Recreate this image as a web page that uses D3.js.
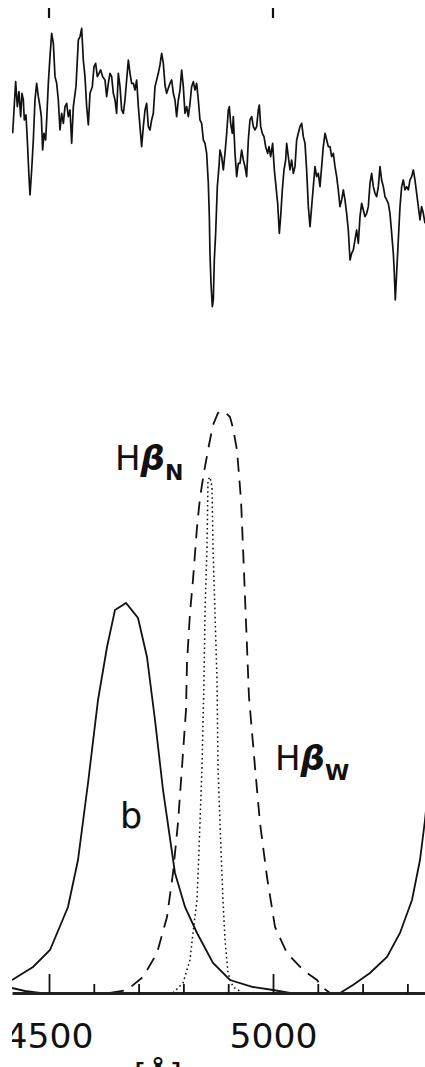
<!DOCTYPE html>
<html>
<head>
<meta charset="utf-8">
<script src="https://cdn.jsdelivr.net/npm/d3@7"></script>
<style>
body { margin: 0; background: #fff; }
svg { display: block; }
text { font-family: "DejaVu Sans", sans-serif; fill: #111; }
</style>
</head>
<body>
<div id="chart"></div>
<script>
// Observed spectrum (wavelength in A, flux in arbitrary units)
const specWave = [4418.9,4421.9,4425.6,4429.3,4433.0,4436.7,4439.7,4442.7,4444.9,4448.6,4451.6,4455.3,4457.6,4461.3,4465.0,4468.7,4472.4,4476.2,4479.9,4482.9,4485.8,4488.8,4492.5,4494.8,4498.5,4502.2,4505.9,4509.7,4513.4,4517.1,4520.8,4524.5,4528.3,4532.0,4535.7,4539.4,4543.1,4546.9,4550.6,4554.3,4560.2,4565.5,4569.2,4572.9,4576.6,4580.3,4584.1,4587.8,4591.5,4596.7,4600.4,4604.1,4607.9,4611.6,4615.3,4619.8,4625.0,4628.7,4632.4,4636.1,4639.9,4643.6,4647.3,4651.0,4654.7,4658.5,4662.2,4665.9,4669.6,4673.3,4677.1,4680.8,4684.5,4688.2,4691.9,4695.7,4699.4,4703.1,4706.8,4710.5,4714.3,4718.0,4721.7,4725.4,4729.1,4732.9,4736.6,4740.3,4744.0,4747.7,4751.5,4755.2,4758.9,4762.6,4766.3,4770.1,4773.8,4777.5,4781.2,4784.9,4788.7,4792.4,4796.1,4799.8,4803.5,4807.3,4811.0,4814.7,4818.4,4822.1,4825.9,4829.6,4833.3,4837.0,4840.7,4844.5,4848.2,4851.9,4855.6,4857.9,4859.3,4861.6,4864.6,4866.8,4869.0,4872.0,4875.7,4879.4,4881.7,4885.4,4889.1,4892.8,4896.6,4900.3,4902.5,4905.5,4909.2,4911.4,4915.2,4918.9,4922.6,4926.3,4930.0,4933.8,4937.5,4941.2,4944.9,4948.6,4952.4,4956.1,4959.8,4963.5,4967.2,4969.5,4972.5,4976.2,4979.9,4983.6,4988.1,4991.1,4994.8,4999.2,5003.0,5006.7,5010.4,5014.1,5017.1,5020.8,5024.5,5028.3,5030.5,5034.2,5037.9,5041.6,5045.4,5049.1,5052.8,5056.5,5060.2,5064.0,5067.7,5071.4,5075.1,5078.9,5082.6,5086.3,5090.0,5093.7,5097.5,5101.2,5104.9,5108.6,5112.3,5116.1,5119.8,5123.5,5127.2,5130.9,5134.7,5138.4,5142.1,5145.8,5149.5,5153.3,5157.0,5160.7,5164.4,5168.1,5171.9,5175.6,5179.3,5183.0,5186.7,5190.5,5194.2,5197.9,5201.6,5205.3,5209.1,5212.8,5216.5,5220.2,5223.9,5227.7,5231.4,5235.1,5238.8,5242.5,5246.3,5250.0,5253.7,5257.4,5261.1,5264.9,5268.6,5270.8,5273.0,5276.0,5279.7,5283.5,5287.2,5290.9,5294.6,5298.3,5302.1,5305.8,5309.5,5313.2,5316.9,5320.7,5324.4,5328.1,5331.8,5335.5,5339.3];
const specFlux = [6.00,6.70,7.55,6.80,7.25,6.50,7.20,7.00,6.40,6.55,5.80,4.70,4.15,4.90,5.80,7.00,7.50,7.10,6.80,6.50,5.50,6.00,5.80,6.40,7.50,8.30,9.00,8.70,7.70,7.50,7.00,6.10,6.60,6.30,6.80,6.90,6.50,6.70,5.70,6.80,7.40,8.80,8.90,9.15,8.20,7.70,6.80,6.25,7.20,7.40,8.00,8.10,7.70,7.80,7.90,7.70,7.60,7.10,7.50,7.80,7.70,7.20,7.00,6.60,7.80,7.40,6.70,6.60,7.00,7.60,8.20,7.80,7.50,7.50,7.30,7.60,6.80,6.20,5.60,6.20,6.70,6.90,6.20,6.10,6.40,6.60,7.40,7.60,7.80,8.05,8.40,8.10,7.45,7.20,7.35,7.50,7.60,7.20,7.00,6.50,7.00,7.30,7.90,7.40,6.60,6.80,6.50,6.90,7.40,7.55,7.30,7.50,7.00,6.40,6.30,5.80,5.70,5.40,4.50,3.50,2.40,1.50,0.80,1.00,2.20,3.00,4.40,5.00,5.50,5.30,4.90,5.40,6.00,6.70,6.80,6.30,6.00,6.50,5.40,4.70,5.10,5.10,5.50,5.20,5.00,4.70,5.80,6.40,6.50,6.20,6.10,6.20,6.70,6.85,6.20,6.00,5.90,5.60,5.40,5.60,5.30,5.70,4.90,4.40,3.90,3.00,3.50,4.30,4.90,5.20,5.70,5.30,4.90,5.20,4.80,5.00,5.80,6.00,6.20,6.30,5.90,5.70,4.90,3.80,3.20,3.80,4.40,5.00,4.70,4.80,4.40,5.00,5.60,6.00,5.80,5.60,5.60,5.30,5.40,5.00,4.70,4.30,3.80,4.00,4.30,4.00,3.60,3.10,2.20,2.40,2.50,2.80,3.10,2.70,3.50,3.90,3.70,3.50,3.60,3.80,4.50,4.80,4.40,4.20,4.10,4.40,5.00,4.60,4.40,4.10,4.00,3.90,3.60,3.00,2.40,1.80,1.00,1.80,2.80,3.80,4.40,4.60,4.30,4.40,4.30,4.60,4.70,4.90,4.60,4.20,3.80,3.40,3.80,3.60,3.30];

// Fitted components (lower panel)
const bWave   = [4417.4,4464.3,4502.2,4542.4,4564.7,4587.1,4609.4,4629.5,4647.3,4671.9,4698.7,4718.7,4736.6,4754.5,4781.2,4803.6,4830.4,4866.1,4904.0,4955.4,5000.0,5037.9];
const bFlux   = [0.13,0.26,0.43,0.86,1.33,2.10,2.93,3.46,3.83,3.90,3.75,3.36,2.73,2.03,1.20,0.86,0.60,0.30,0.13,0.06,0.03,0.00];
const edgeWave = [4417.4,4446.4,4479.9];
const edgeFlux = [0.05,0.02,0.00];
const hbwWave = [4636.2,4674.1,4709.8,4741.1,4763.4,4776.8,4787.9,4796.9,4805.8,4808.0,4814.7,4821.4,4830.4,4837.0,4846.0,4857.1,4866.1,4877.2,4890.6,4904.0,4910.7,4919.6,4924.1,4928.6,4933.0,4937.5,4942.0,4946.4,4959.8,4971.0,4986.6,5004.5,5031.2,5067.0,5098.2,5109.4,5127.2];
const hbwFlux = [0.00,0.03,0.16,0.40,0.76,1.20,1.70,2.26,2.83,3.30,3.80,4.13,4.66,4.95,5.21,5.48,5.68,5.80,5.82,5.76,5.65,5.43,5.18,4.93,4.46,3.96,3.46,2.96,2.26,1.70,1.16,0.66,0.40,0.23,0.13,0.06,0.00];
const hbnWave = [4776.8,4799.1,4814.7,4821.4,4830.4,4834.8,4841.5,4846.0,4848.2,4852.7,4854.9,4859.4,4863.8,4866.1,4870.5,4875.0,4877.2,4883.9,4888.4,4892.9,4899.6,4910.7,4933.0];
const hbnFlux = [0.00,0.10,0.33,0.60,0.93,1.43,2.26,3.13,3.80,4.46,5.13,5.16,5.06,4.46,3.80,3.13,2.26,1.43,0.93,0.53,0.20,0.06,0.00];
const redWave = [5149.6,5178.6,5216.5,5254.5,5283.5,5310.3,5328.1,5339.3,5350.4];
const redFlux = [0.00,0.08,0.20,0.36,0.60,0.93,1.33,1.73,2.23];

const majorTicks = [4500, 5000];
const minorTicks = [4600, 4700, 4800, 4900, 5100, 5200, 5300];
const axisTitle = "[Å]";

const width = 425, height = 1067;

const svg = d3.select("#chart").append("svg")
    .attr("width", width)
    .attr("height", height);

svg.append("rect").attr("width", width).attr("height", height).attr("fill", "#fff");

const defs = svg.append("defs");
defs.append("clipPath").attr("id", "clip")
  .append("rect").attr("x", 12).attr("y", 0).attr("width", 413).attr("height", 993);
// the figure is cropped at its left edge, labels included
defs.append("clipPath").attr("id", "clipAll")
  .append("rect").attr("x", 12).attr("y", 0).attr("width", 413).attr("height", height);

const x = d3.scaleLinear().domain([4417.4, 5339.3]).range([12, 425]);
const yTop = d3.scaleLinear().domain([0, 10]).range([333.3, 0]);
const yBot = d3.scaleLinear().domain([0, 6]).range([993, 393]);

const zip = (w, f) => w.map((d, i) => [d, f[i]]);

const lineTop = d3.line().x(d => x(d[0])).y(d => yTop(d[1]));
const lineBot = d3.line().x(d => x(d[0])).y(d => yBot(d[1]));

const plot = svg.append("g").attr("clip-path", "url(#clip)");

// spectrum
plot.append("path")
    .datum(zip(specWave, specFlux))
    .attr("d", lineTop)
    .attr("fill", "none")
    .attr("stroke", "#111")
    .attr("stroke-width", 1.7)
    .attr("stroke-linejoin", "round");

// ticks hanging at the top
svg.append("g").selectAll("line")
    .data(majorTicks)
    .join("line")
    .attr("x1", d => x(d)).attr("x2", d => x(d))
    .attr("y1", 8).attr("y2", 18)
    .attr("stroke", "#111").attr("stroke-width", 2.2);

// components
const comps = [
    { w: bWave, f: bFlux, dash: null, sw: 1.8 },
    { w: edgeWave, f: edgeFlux, dash: null, sw: 1.8 },
    { w: redWave, f: redFlux, dash: null, sw: 1.8 },
    { w: hbwWave, f: hbwFlux, dash: "14,9", sw: 1.8 },
    { w: hbnWave, f: hbnFlux, dash: "1.6,3", sw: 1.5 }
];
comps.forEach(c => {
    plot.append("path")
        .datum(zip(c.w, c.f))
        .attr("d", lineBot)
        .attr("fill", "none")
        .attr("stroke", "#111")
        .attr("stroke-width", c.sw)
        .attr("stroke-dasharray", c.dash);
});

const axes = svg.append("g").attr("clip-path", "url(#clipAll)");

// bottom axis: minor and major ticks pointing up
axes.append("g")
    .attr("transform", "translate(0,993)")
    .call(d3.axisBottom(x).tickValues(minorTicks).tickSizeInner(-9).tickSizeOuter(0).tickFormat(""))
    .call(g => g.selectAll("line").attr("stroke", "#111").attr("stroke-width", 1.8))
    .call(g => g.select(".domain").attr("stroke", "#222").attr("stroke-width", 2.8));

axes.append("g")
    .attr("transform", "translate(0,993)")
    .call(d3.axisBottom(x).tickValues(majorTicks).tickSizeInner(-19).tickSizeOuter(0).tickFormat(d3.format("d")))
    .call(g => g.select(".domain").remove())
    .call(g => g.selectAll("line").attr("stroke", "#111").attr("stroke-width", 1.8))
    .call(g => g.selectAll("text")
        .attr("y", 55).attr("dy", null)
        .attr("font-size", 33)
        .attr("font-family", "DejaVu Sans")
        .attr("fill", "#111")
        .attr("textLength", 88)
        .attr("lengthAdjust", "spacingAndGlyphs"));

axes.append("text")
    .attr("x", 158).attr("y", 1088)
    .attr("text-anchor", "middle")
    .attr("font-size", 33)
    .text(axisTitle);

// labels
function hbLabel(px, py, sub) {
    const t = svg.append("text").attr("x", px).attr("y", py).attr("font-size", 34);
    t.append("tspan").text("H");
    t.append("tspan").attr("font-weight", "bold").attr("font-style", "italic").text("β");
    t.append("tspan").attr("font-weight", "bold").attr("font-size", 22).attr("dy", 10).text(sub);
}
hbLabel(115, 470, "N");
hbLabel(275, 770, "W");

svg.append("text")
    .attr("x", 120).attr("y", 828)
    .attr("font-size", 35)
    .text("b");
</script>
</body>
</html>
